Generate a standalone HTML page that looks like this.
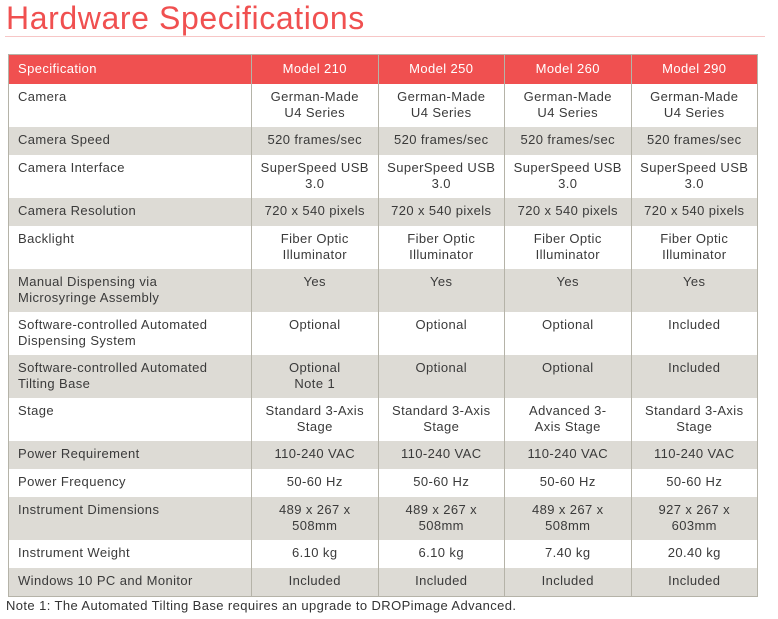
<!DOCTYPE html>
<html><head><style>
body{margin:0;width:778px;height:619px;background:#fff;font-family:"Liberation Sans",sans-serif;position:relative;overflow:hidden}
h1{position:absolute;left:6px;top:0px;margin:0;font-weight:normal;font-size:32px;color:#f05050;letter-spacing:0.6px}
.ln{position:absolute;left:5px;top:36px;width:760px;height:1px;background:#f7c6c6}
table{position:absolute;left:8px;top:54px;width:750px;border-collapse:collapse;border:1px solid #b5b3a8;font-size:13px;letter-spacing:0.4px;color:#3a3a3a}
td{border-left:1px solid #b5b3a8;border-right:1px solid #b5b3a8;padding:5px 0 0 0;vertical-align:top;line-height:16px;text-align:center}
td:first-child{text-align:left;padding-left:9px;width:233px}
tr.h td{background:#f05050;color:#fff;height:23px;padding-top:6px;line-height:15px}
tr.g td{background:#dddbd5}
tr.s td{height:23px}
tr.d td{height:38px}
.note{position:absolute;left:6px;top:598px;font-size:13px;letter-spacing:0.4px;color:#333}
</style></head><body>
<h1>Hardware Specifications</h1><div class="ln"></div>
<table>
<tr class="h"><td>Specification</td><td>Model 210</td><td>Model 250</td><td>Model 260</td><td>Model 290</td></tr>
<tr class="d"><td>Camera</td><td>German-Made<br>U4 Series</td><td>German-Made<br>U4 Series</td><td>German-Made<br>U4 Series</td><td>German-Made<br>U4 Series</td></tr>
<tr class="s g"><td>Camera Speed</td><td>520 frames/sec</td><td>520 frames/sec</td><td>520 frames/sec</td><td>520 frames/sec</td></tr>
<tr class="d"><td>Camera Interface</td><td>SuperSpeed USB<br>3.0</td><td>SuperSpeed USB<br>3.0</td><td>SuperSpeed USB<br>3.0</td><td>SuperSpeed USB<br>3.0</td></tr>
<tr class="s g"><td>Camera Resolution</td><td>720 x 540 pixels</td><td>720 x 540 pixels</td><td>720 x 540 pixels</td><td>720 x 540 pixels</td></tr>
<tr class="d"><td>Backlight</td><td>Fiber Optic<br>Illuminator</td><td>Fiber Optic<br>Illuminator</td><td>Fiber Optic<br>Illuminator</td><td>Fiber Optic<br>Illuminator</td></tr>
<tr class="d g"><td>Manual Dispensing via<br>Microsyringe Assembly</td><td>Yes</td><td>Yes</td><td>Yes</td><td>Yes</td></tr>
<tr class="d"><td>Software-controlled Automated<br>Dispensing System</td><td>Optional</td><td>Optional</td><td>Optional</td><td>Included</td></tr>
<tr class="d g"><td>Software-controlled Automated<br>Tilting Base</td><td>Optional<br>Note 1</td><td>Optional</td><td>Optional</td><td>Included</td></tr>
<tr class="d"><td>Stage</td><td>Standard 3-Axis<br>Stage</td><td>Standard 3-Axis<br>Stage</td><td>Advanced 3-<br>Axis Stage</td><td>Standard 3-Axis<br>Stage</td></tr>
<tr class="s g"><td>Power Requirement</td><td>110-240 VAC</td><td>110-240 VAC</td><td>110-240 VAC</td><td>110-240 VAC</td></tr>
<tr class="s"><td>Power Frequency</td><td>50-60 Hz</td><td>50-60 Hz</td><td>50-60 Hz</td><td>50-60 Hz</td></tr>
<tr class="d g"><td>Instrument Dimensions</td><td>489 x 267 x<br>508mm</td><td>489 x 267 x<br>508mm</td><td>489 x 267 x<br>508mm</td><td>927 x 267 x<br>603mm</td></tr>
<tr class="s"><td>Instrument Weight</td><td>6.10 kg</td><td>6.10 kg</td><td>7.40 kg</td><td>20.40 kg</td></tr>
<tr class="s g"><td>Windows 10 PC and Monitor</td><td>Included</td><td>Included</td><td>Included</td><td>Included</td></tr>
</table>
<div class="note">Note 1: The Automated Tilting Base requires an upgrade to DROPimage Advanced.</div>
</body></html>
